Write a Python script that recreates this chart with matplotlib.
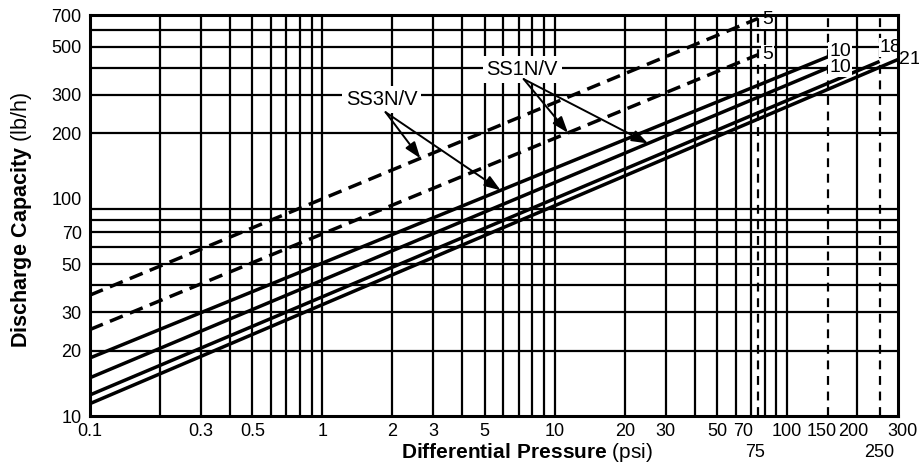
import matplotlib
matplotlib.use("Agg")
import matplotlib.pyplot as plt
import matplotlib.transforms as mtransforms
import numpy as np

plt.rcParams['font.family'] = ['Liberation Sans', 'DejaVu Sans']
plt.rcParams['mathtext.fontset'] = 'custom'
plt.rcParams['mathtext.rm'] = 'Liberation Sans'
plt.rcParams['mathtext.bf'] = 'Liberation Sans:bold'

# ---- data ----
line_labels = ["5", "5", "10", "10", "18", "21"]
line_dashed = [True, True, False, False, False, False]
line_p_start = [0.1, 0.1, 0.1, 0.1, 0.1, 0.1]
line_p_end = [75, 75, 150, 150, 250, 300]
line_cap_start = [36, 25, 18.5, 15, 12.5, 11.4]
line_cap_end = [675, 460, 450, 400, 428, 437]

xtick_vals = [0.1, 0.3, 0.5, 1, 2, 3, 5, 10, 20, 30, 50, 70, 100, 150, 200, 300]
xtick_labels = ["0.1", "0.3", "0.5", "1", "2", "3", "5", "10", "20", "30", "50", "70", "100", "150", "200", "300"]
ytick_vals = [10, 20, 30, 50, 70, 100, 200, 300, 500, 700]
ytick_labels = ["10", "20", "30", "50", "70", "100", "200", "300", "500", "700"]

x_grid = [m * 10.0 ** e for e in (-1, 0, 1) for m in range(1, 10)] + [100, 200]
x_grid_dashed = [75, 150, 250]
y_grid = [m * 10.0 ** e for e in (1, 2) for m in range(2, 10)]
y_grid = [v for v in y_grid if v < 700]
extra_xlabels = [75, 250]

# label annotations: (text, text pos, arrow start, arrow targets as (line index, pressure))
callouts = [
    ("SS3N/V", (1.80, 286), (1.87, 250), [(0, 2.64), (2, 5.85)]),
    ("SS1N/V", (7.25, 393), (7.35, 355), [(1, 11.4), (3, 25.2)]),
]

# small horizontal nudges (pixels) of crowded x tick labels, as in the original
xtick_shift_px = {"70": -8, "150": -6, "200": -4, "300": 4}
extra_shift_px = {75: -3, 250: 0}


def line_value(i, p):
    x0, x1 = np.log10(line_p_start[i]), np.log10(line_p_end[i])
    y0, y1 = np.log10(line_cap_start[i]), np.log10(line_cap_end[i])
    return 10 ** (y0 + (np.log10(p) - x0) * (y1 - y0) / (x1 - x0))


fig = plt.figure(figsize=(9.19, 4.69), dpi=100)
ax = fig.add_axes([90 / 919, 1 - 416 / 469, 808 / 919, 401 / 469])
ax.set_xscale('log')
ax.set_yscale('log')
ax.set_xlim(0.1, 300)
ax.set_ylim(10, 700)

for v in x_grid:
    ax.axvline(v, color='black', lw=1.6, zorder=1)
for v in x_grid_dashed:
    ax.axvline(v, color='black', lw=1.6, zorder=1, dashes=(4, 3))
for v in y_grid:
    ax.axhline(v, color='black', lw=1.6, zorder=1)

for i in range(len(line_labels)):
    kw = dict(color='black', lw=2.5, zorder=3, solid_capstyle='butt')
    if line_dashed[i]:
        kw['dashes'] = (4, 2.2)
    ax.plot([line_p_start[i], line_p_end[i]], [line_cap_start[i], line_cap_end[i]], **kw)

# end labels
end_offsets = [(3, -1), (3, 0), (1, 4), (1, 0), (0, 10), (0.5, 0)]
for i, lab in enumerate(line_labels):
    ax.annotate(lab, (line_p_end[i], line_cap_end[i]), xytext=end_offsets[i],
                textcoords='offset points', ha='left', va='center', fontsize=14,
                zorder=6, annotation_clip=False,
                bbox=dict(boxstyle='square,pad=0.05', fc='white', ec='none'))

for text, tpos, apos, targets in callouts:
    ax.text(tpos[0], tpos[1], text, ha='center', va='center', fontsize=14.5, zorder=6,
            bbox=dict(boxstyle='square,pad=0.2', fc='white', ec='none'))
    for (li, p) in targets:
        ax.annotate("", xy=(p, line_value(li, p)), xytext=apos,
                    arrowprops=dict(arrowstyle='-|>,head_length=0.7,head_width=0.25',
                                    color='black', lw=1.4, shrinkA=0, shrinkB=0,
                                    mutation_scale=14), zorder=7)

ax.set_xticks(xtick_vals)
ax.set_xticklabels(xtick_labels)
ax.set_xticks([], minor=True)
ax.set_yticks(ytick_vals)
ax.set_yticklabels(ytick_labels)
ax.set_yticks([], minor=True)
ax.tick_params(axis='both', which='both', length=0, labelsize=13)
ax.tick_params(axis='x', pad=5)
ax.tick_params(axis='y', pad=6)
for lab in ax.get_xticklabels():
    dx = xtick_shift_px.get(lab.get_text(), 0)
    if dx:
        lab.set_transform(lab.get_transform() +
                          mtransforms.ScaledTranslation(dx / 100, 0, fig.dpi_scale_trans))
for s in ax.spines.values():
    s.set_linewidth(2.2)
    s.set_zorder(8)

for v in extra_xlabels:
    t = ax.text(v, -0.09, str(v), transform=ax.get_xaxis_transform() +
                mtransforms.ScaledTranslation(extra_shift_px[v] / 100, 0, fig.dpi_scale_trans),
                ha='center', va='center', fontsize=13)

ax.text(0.541, -0.09, r'$\mathbf{Differential\ Pressure}$ (psi)', transform=ax.transAxes,
        ha='center', va='center', fontsize=15)
fig.text(22 / 919, 1 - 220 / 469, r'$\mathbf{Discharge\ Capacity}$ (lb/h)', rotation=90,
         ha='center', va='center', fontsize=15.5)

fig.savefig('out.png', dpi=100, facecolor='white')
